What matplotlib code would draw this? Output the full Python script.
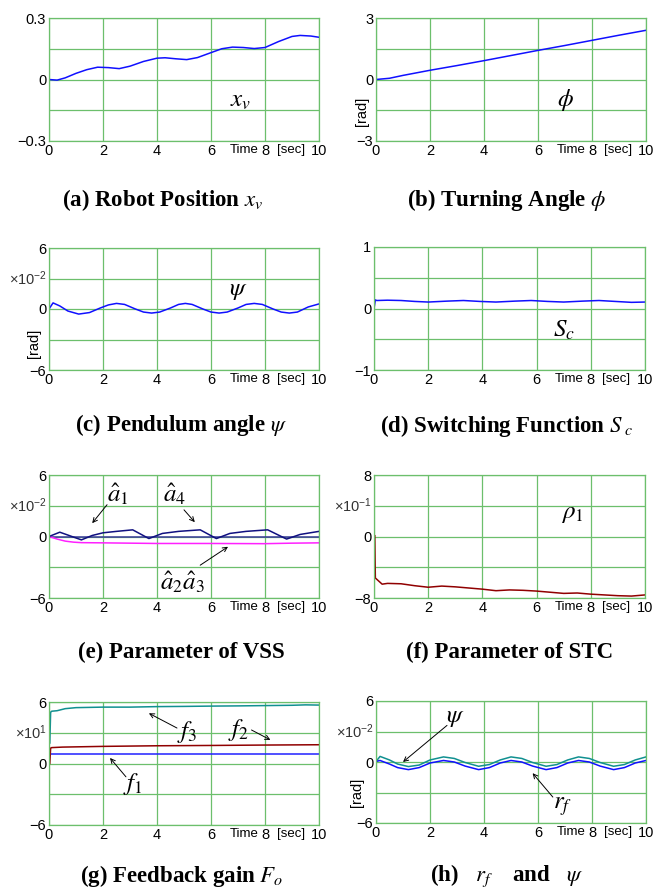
import matplotlib
matplotlib.use("Agg")
import matplotlib.pyplot as plt
from matplotlib.transforms import blended_transform_factory

plt.rcParams['font.family'] = ['Liberation Sans', 'DejaVu Sans']
plt.rcParams['mathtext.fontset'] = 'stix'

W, H = 669, 893
GRID = '#6cbf6c'

# (a) robot position x_v
t_a = [0, 0.3, 0.6, 1.0, 1.4, 1.8, 2.2, 2.6, 3.0, 3.5, 4.0, 4.3, 4.7, 5.1, 5.5,
       6.0, 6.4, 6.8, 7.2, 7.6, 8.0, 8.5, 9.0, 9.3, 9.7, 10.0]
x_v = [0, -0.003, 0.008, 0.03, 0.048, 0.06, 0.058, 0.053, 0.065, 0.088, 0.104, 0.106,
       0.101, 0.097, 0.107, 0.131, 0.15, 0.158, 0.156, 0.151, 0.156, 0.185, 0.21,
       0.215, 0.212, 0.206]

# (b) turning angle phi
t_b = [0, 0.5, 1, 2, 3, 4, 5, 6, 7, 8, 9, 10]
phi = [0, 0.06, 0.2, 0.45, 0.68, 0.92, 1.17, 1.42, 1.66, 1.91, 2.16, 2.4]

# (c) pendulum angle psi [x1e-2 rad]
t_c = [0, 0.15, 0.4, 0.7, 1.1, 1.5, 1.9, 2.2, 2.5, 2.8, 3.2, 3.5, 3.8, 4.1, 4.5, 4.8,
       5.05, 5.3, 5.7, 6.0, 6.3, 6.6, 7.0, 7.3, 7.6, 7.9, 8.3, 8.6, 8.9, 9.2, 9.6, 10.0]
psi_c = [0, 0.6, 0.3, -0.2, -0.5, -0.35, 0.1, 0.4, 0.55, 0.45, 0.0, -0.3, -0.4, -0.3,
         0.1, 0.45, 0.55, 0.45, 0.0, -0.3, -0.4, -0.3, 0.1, 0.45, 0.55, 0.45, 0.0,
         -0.3, -0.4, -0.3, 0.2, 0.5]

# (d) switching function S_c
t_d = [0, 0.05, 0.1, 0.5, 1.0, 1.5, 2.0, 2.7, 3.3, 3.9, 4.5, 5.2, 5.8, 6.4, 7.0,
       7.7, 8.3, 8.9, 9.5, 10.0]
s_c = [0, 0.14, 0.13, 0.135, 0.13, 0.115, 0.105, 0.12, 0.13, 0.115, 0.105, 0.12,
       0.13, 0.115, 0.105, 0.12, 0.13, 0.115, 0.1, 0.105]

# (e) VSS parameters [x1e-2]
t_e1 = [0, 0.4, 1.2, 1.6, 2.0, 2.5, 3.1, 3.7, 4.2, 4.8, 5.6, 6.2, 6.7, 7.3, 8.1,
        8.8, 9.3, 10.0]
a_14 = [0, 0.42, -0.33, 0.1, 0.36, 0.5, 0.65, -0.2, 0.3, 0.5, 0.65, -0.2, 0.3, 0.5,
        0.65, -0.25, 0.2, 0.5]
t_e2 = [0, 0.3, 0.6, 0.9, 1.2, 2, 4, 6, 8, 9, 10]
a_23 = [0, -0.25, -0.45, -0.55, -0.6, -0.62, -0.68, -0.68, -0.7, -0.65, -0.62]
t_e3 = [0, 10]
a_flat = [0, 0]

# (f) STC parameter rho_1 [x1e-1]
t_f = [0.03, 0.04, 0.05, 0.3, 0.5, 1.0, 1.5, 2.0, 2.5, 3.0, 3.5, 4.0, 4.5, 5.0, 5.5,
       6.0, 6.5, 7.0, 7.5, 8.0, 8.5, 9.0, 9.5, 10.0]
rho_1 = [0.1, -3.0, -5.4, -6.2, -6.1, -6.15, -6.4, -6.6, -6.45, -6.55, -6.7, -6.85,
         -7.05, -6.95, -7.0, -7.1, -7.25, -7.4, -7.35, -7.5, -7.6, -7.7, -7.75, -7.6]

# (g) feedback gains [x1e1]
t_g3 = [0.03, 0.06, 0.1, 0.3, 0.6, 1.0, 2.0, 3.0, 4.0, 5.0, 6.0, 7.0, 8.0, 9.0, 9.5, 10.0]
f_3 = [2.0, 5.0, 5.1, 5.15, 5.35, 5.45, 5.5, 5.5, 5.55, 5.57, 5.6, 5.62, 5.65, 5.68,
       5.72, 5.7]
t_g2 = [0.03, 0.06, 0.1, 0.5, 2, 4, 6, 8, 10]
f_2 = [0, 1.5, 1.55, 1.6, 1.67, 1.73, 1.76, 1.8, 1.83]
t_g1 = [0, 10]
f_1 = [0.92, 0.92]

# (h) r_f and psi [x1e-2 rad]
t_h = [0, 0.15, 0.5, 0.8, 1.2, 1.6, 2.0, 2.5, 2.9, 3.3, 3.8, 4.2, 4.6, 5.0, 5.4, 5.8,
       6.3, 6.7, 7.1, 7.5, 7.9, 8.3, 8.8, 9.2, 9.6, 10.0]
r_f = [0.05, 0.15, -0.2, -0.55, -0.75, -0.55, -0.1, 0.15, 0.0, -0.4, -0.75, -0.55,
       -0.1, 0.15, 0.0, -0.4, -0.75, -0.55, -0.1, 0.15, 0.0, -0.4, -0.75, -0.55, -0.1, 0.15]
psi_h = [0.05, 0.55, 0.2, -0.2, -0.45, -0.3, 0.2, 0.5, 0.35, -0.05, -0.42, -0.25, 0.2,
         0.5, 0.35, -0.05, -0.42, -0.25, 0.2, 0.5, 0.35, -0.05, -0.42, -0.25, 0.2, 0.5]

x_ticks = [0, 2, 4, 6, 8, 10]


def make_axes(fig, box, lim, top_label, bottom_label, scale=None, rad=None):
    x0, y0, x1, y1 = box
    ax = fig.add_axes([x0 / W, 1 - y1 / H, (x1 - x0) / W, (y1 - y0) / H])
    ax.set_xlim(0, 10)
    ax.set_ylim(-lim, lim)
    ax.set_xticks(x_ticks)
    ax.set_xticklabels([str(v) for v in x_ticks], fontsize=10.5)
    ax.set_yticks([-lim, -lim / 2, 0, lim / 2, lim])
    ax.set_yticklabels([bottom_label, '', '0', '', top_label], fontsize=10.5)
    ax.tick_params(length=0, pad=2)
    ax.grid(True, color=GRID, lw=0.9)
    for s in ax.spines.values():
        s.set_color(GRID)
        s.set_linewidth(0.9)
    ax.set_axisbelow(True)
    tr = blended_transform_factory(ax.transData, ax.transAxes)
    ax.text(7.22, -0.025, 'Time', transform=tr, ha='center', va='top', fontsize=9.5)
    ax.text(8.95, -0.025, '[sec]', transform=tr, ha='center', va='top', fontsize=9.5)
    if scale:
        ax.text(-0.008, 0.75, scale, transform=ax.transAxes, ha='right', va='center',
                fontsize=10.5, color='#333333')
    if rad:
        ax.text(rad[0], rad[1], '[rad]', transform=ax.transAxes, rotation=90,
                ha='center', va='center', fontsize=10.5)
    return ax


def caption(fig, ax, text, cx, dy):
    # cx: caption centre in pixels, dy: pixels below the axes to its centre
    box = ax.get_position()
    fig.text(cx / W, box.y0 - dy / H, text, ha='center', va='center',
             fontsize=16.5, fontweight='bold', family='Liberation Serif')


def label(ax, x, y, text):
    ax.text(x, y, text, ha='center', va='center', fontsize=18)


def pointer(ax, text, xy, xytext, textpos):
    ax.annotate('', xy=xy, xytext=xytext,
                arrowprops=dict(arrowstyle='->', color='black', lw=0.7,
                                shrinkA=0, shrinkB=0, mutation_scale=8))
    label(ax, textpos[0], textpos[1], text)


fig = plt.figure(figsize=(W / 100, H / 100), dpi=100)
sc2 = r'$\mathregular{\times10^{-2}}$'

# (a)
ax = make_axes(fig, (49, 18, 319, 141), 0.3, '0.3', '\u22120.3')
ax.plot(t_a, x_v, color='#1010ff', lw=1.1)
label(ax, 7.1, -0.1, r'$x_v$')
caption(fig, ax, r'(a) Robot Position $x_v$', 163, 59)

# (b)
ax = make_axes(fig, (376, 18, 646, 141), 3, '3', '\u22123', rad=(-0.05, 0.24))
ax.plot(t_b, phi, color='#1010ff', lw=1.1)
label(ax, 7.0, -1.0, r'$\phi$')
caption(fig, ax, r'(b) Turning Angle $\phi$', 507, 59)

# (c)
ax = make_axes(fig, (49, 248, 319, 370), 6, '6', '\u22126', scale=sc2, rad=(-0.055, 0.22))
ax.plot(t_c, psi_c, color='#1010ff', lw=1.1)
label(ax, 7.0, 1.9, r'$\psi$')
caption(fig, ax, r'(c) Pendulum angle $\psi$', 181, 55)

# (d)
ax = make_axes(fig, (374, 247, 645, 370), 1, '1', '\u22121')
ax.plot(t_d, s_c, color='#1010ff', lw=1.1)
label(ax, 7.0, -0.35, r'$S_c$')
caption(fig, ax, r'(d) Switching Function $S_{\ c}$', 507, 56)

# (e)
ax = make_axes(fig, (49, 475, 319, 598), 6, '6', '\u22126', scale=sc2)
ax.plot(t_e3, a_flat, color='#3a3a9a', lw=1.1)
ax.plot(t_e2, a_23, color='#ff20ff', lw=1.1)
ax.plot(t_e1, a_14, color='#101080', lw=1.1)
pointer(ax, r'$\hat{a}_1$', (1.6, 1.3), (2.15, 3.1), (2.55, 4.1))
pointer(ax, r'$\hat{a}_4$', (5.4, 1.4), (5.0, 2.6), (4.67, 4.1))
pointer(ax, r'$\hat{a}_2\hat{a}_3$', (6.63, -1.0), (5.6, -2.8), (4.96, -4.4))
caption(fig, ax, r'(e) Parameter of VSS', 181, 54)

# (f)
ax = make_axes(fig, (374, 475, 645, 598), 8, '8', '\u22128',
               scale=r'$\mathregular{\times10^{-1}}$')
ax.plot(t_f, rho_1, color='#900000', lw=1.1)
label(ax, 7.3, 3.0, r'$\rho_1$')
caption(fig, ax, r'(f) Parameter of STC', 510, 54)

# (g)
ax = make_axes(fig, (49, 702, 319, 825), 6, '6', '\u22126',
               scale=r'$\mathregular{\times10^{1}}$')
ax.plot(t_g1, f_1, color='#2020ff', lw=1.1)
ax.plot(t_g2, f_2, color='#900000', lw=1.1)
ax.plot(t_g3, f_3, color='#109090', lw=1.1)
pointer(ax, r'$f_3$', (3.7, 4.9), (4.74, 3.46), (5.1, 3.1))
pointer(ax, r'$f_2$', (8.2, 2.3), (7.5, 3.27), (7.0, 3.3))
pointer(ax, r'$f_1$', (2.26, 0.54), (2.85, -1.3), (3.1, -2.0))
caption(fig, ax, r'(g) Feedback gain $F_o$', 182, 51)

# (h)
ax = make_axes(fig, (376, 701, 646, 823), 6, '6', '\u22126', scale=sc2, rad=(-0.07, 0.25))
ax.plot(t_h, psi_h, color='#109090', lw=1.1)
ax.plot(t_h, r_f, color='#1010ff', lw=1.1)
pointer(ax, r'$\psi$', (1.0, 0.0), (2.63, 3.6), (2.95, 4.4))
pointer(ax, r'$r_f$', (5.8, -1.1), (6.55, -3.45), (6.9, -4.3))
caption(fig, ax, r'(h)   $r_f$    and   $\psi$', 507, 53)

fig.savefig('out.png', dpi=100)
